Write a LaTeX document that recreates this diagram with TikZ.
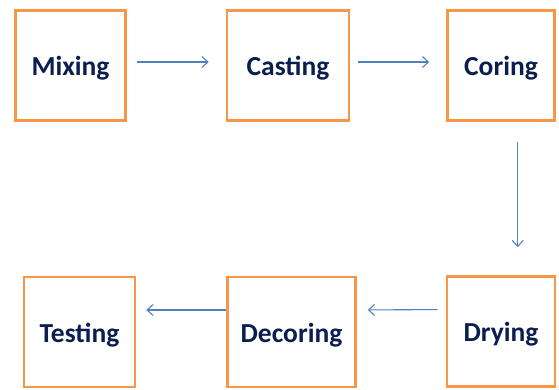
\documentclass[tikz,border=0pt]{standalone}
\usepackage{fontspec}
\setmainfont{Carlito}
\usetikzlibrary{arrows.meta}
\definecolor{orangeboite}{RGB}{247,150,70}
\definecolor{bleufleche}{RGB}{79,129,189}
\definecolor{bleutexte}{RGB}{10,30,80}

\begin{document}
\begin{tikzpicture}[x=1pt,y=-1pt]
            % Styles
            \tikzstyle{etape}=[draw=orangeboite,line width=2.6pt,fill=white,inner sep=0pt,minimum height=110pt,text height=26pt,text depth=6pt,text=bleutexte,font=\fontsize{27.5}{30}\selectfont\bfseries]
            \tikzstyle{fleche}=[-{Straight Barb[length=6pt,width=11pt]},bleufleche,line width=1.1pt]
            % Cadre
            \useasboundingbox (0,0) rectangle (559,389);
            % Noeuds
            \node[etape,minimum width=110pt] (Mix) at (70.5,65.5) {Mixing};
            \node[etape,minimum width=122pt] (Cast) at (288,65.5) {Casting};
            \node[etape,minimum width=107pt] (Core) at (501,65.5) {Coring};
            \node[etape,minimum width=108pt] (Dry) at (501,331.5) {Drying};
            \node[etape,minimum width=128pt] (Decore) at (291.5,332) {Decoring};
            \node[etape,minimum width=111pt] (Test) at (79.5,332) {Testing};
            % Arcs
            \draw[fleche,shorten <=10pt,shorten >=17pt] ([yshift=3.5pt]Mix.east)--([yshift=3.5pt]Cast.west);
            \draw[fleche,shorten <=8pt,shorten >=17pt] ([yshift=3.5pt]Cast.east)--([yshift=3.5pt]Core.west);
            \draw[fleche,shorten <=20pt,shorten >=28pt] ([xshift=16.7pt]Core.south)--([xshift=16.7pt]Dry.north);
            \draw[fleche,shorten <=8pt,shorten >=11pt] ([yshift=22pt]Dry.west)--([yshift=22pt]Decore.east);
            \draw[fleche,shorten >=10pt] ([yshift=22pt]Decore.west)--([yshift=22pt]Test.east);
\end{tikzpicture}
\end{document}
